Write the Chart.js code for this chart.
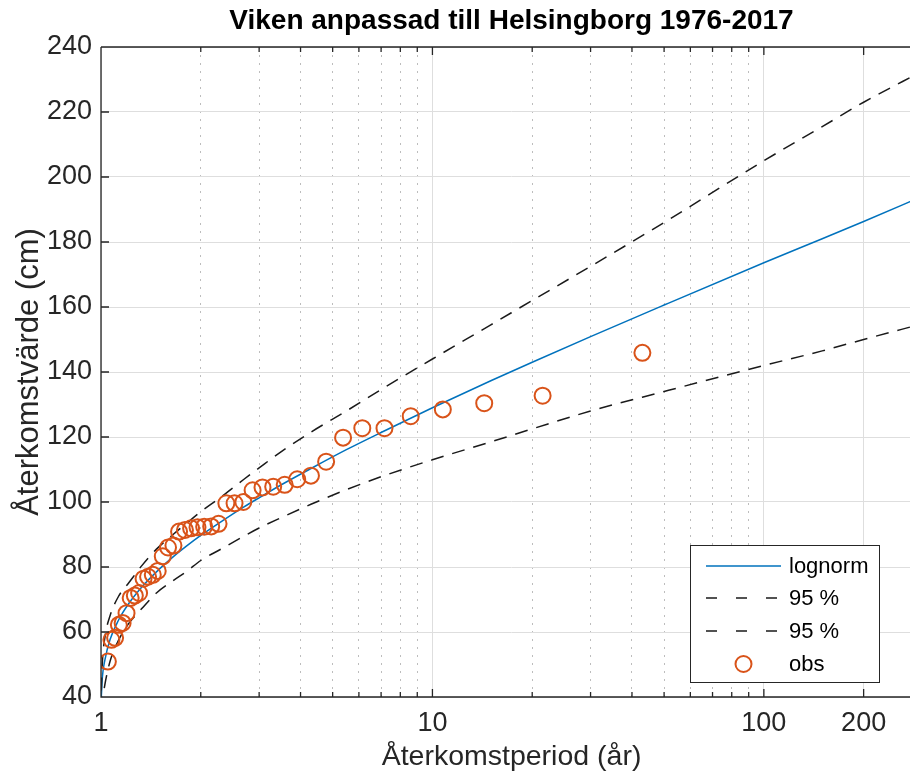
<!DOCTYPE html>
<html>
<head>
<meta charset="utf-8">
<script src="https://cdn.jsdelivr.net/npm/chart.js@4.4.0/dist/chart.umd.min.js"></script>
<style>
  body { margin: 0; background: #fff; }
  #wrap { width: 910px; height: 776px; overflow: hidden; }
</style>
</head>
<body>
<div id="wrap"><canvas id="chart" width="922" height="776"></canvas></div>
<script>
// observerade årsmaxima och deras återkomstperiod
var obsPeriod = [43, 21.5, 14.33, 10.75, 8.6, 7.167, 6.143, 5.375, 4.778, 4.3,
  3.909, 3.583, 3.308, 3.071, 2.867, 2.688, 2.529, 2.389, 2.263, 2.15,
  2.048, 1.955, 1.87, 1.792, 1.72, 1.654, 1.593, 1.536, 1.483, 1.433,
  1.387, 1.344, 1.303, 1.265, 1.229, 1.194, 1.162, 1.132, 1.103, 1.075, 1.049];
var obsLevel = [145.9, 132.7, 130.4, 128.5, 126.4, 122.7, 122.7, 119.8, 112.4, 108.1,
  107.0, 105.3, 104.7, 104.5, 103.6, 100.0, 99.6, 99.6, 93.3, 92.5,
  92.4, 92.2, 91.9, 91.4, 90.9, 86.6, 86.0, 83.3, 78.8, 77.6,
  77.0, 76.4, 72.0, 71.2, 70.5, 65.8, 62.8, 62.2, 58.2, 57.6, 50.9];

// anpassad kurva (lognorm) och 95 % gränser
var curvePeriod = [1.002, 1.01, 1.028, 1.065, 1.13, 1.21, 1.33, 1.47, 1.65, 1.81,
  2, 2.3, 2.7, 3, 3.5, 4.3, 5.5, 7.1, 10, 15, 20, 30, 50, 100, 150, 200, 300];
var lognormLevel = [40, 46.3, 51.5, 57.7, 63.7, 68.6, 73.9, 78.5, 83.1, 86.4,
  89.7, 93.9, 98.5, 101.3, 105.3, 110.3, 116.1, 121.7, 129.0, 137.3, 143.0, 150.9, 160.6, 173.6, 181.0, 186.3, 194.0];
var upperLevel = [42, 51, 58.5, 65, 71, 75, 80.5, 85.5, 90, 93.4,
  97, 101.5, 107, 110.5, 115.5, 121.5, 128, 135, 144, 154.5, 162, 172.5, 186, 205, 215.5, 223, 232.5];
var lowerLevel = [36, 39, 44, 51, 57.5, 62.5, 67.3, 72, 75.8, 78.6,
  82, 85.5, 89.5, 92, 95.2, 99.3, 103.8, 108, 113, 118.5, 122.5, 128, 134, 142, 146.5, 150, 154.8];

var xTicks = [1, 2, 3, 4, 5, 6, 7, 8, 9, 10, 20, 30, 40, 50, 60, 70, 80, 90, 100, 200];
var xMajor = [1, 10, 100, 200];
var yTicks = [40, 60, 80, 100, 120, 140, 160, 180, 200, 220, 240];

function pairs(xs, ys) {
  return xs.map(function (x, i) { return { x: x, y: ys[i] }; });
}

var axesColor = '#262626';
var fontFamily = '"Liberation Sans", Arial, sans-serif';
var legendItems = [
  { text: 'lognorm', kind: 'line', color: '#0072BD', dash: [] },
  { text: '95 %', kind: 'line', color: '#1a1a1a', dash: [11, 19] },
  { text: '95 %', kind: 'line', color: '#1a1a1a', dash: [11, 19] },
  { text: 'obs', kind: 'circle', color: '#D95319', dash: [] }
];

var axesBox = {
  id: 'axesBox',
  afterDraw: function (chart) {
    var ctx = chart.ctx, a = chart.chartArea;
    var xs = chart.scales.x, ys = chart.scales.y;
    ctx.save();
    ctx.strokeStyle = axesColor;
    ctx.lineWidth = 1.3;
    ctx.setLineDash([]);
    ctx.beginPath();
    ctx.moveTo(a.left, a.top); ctx.lineTo(a.right, a.top);
    ctx.moveTo(a.left, a.top); ctx.lineTo(a.left, a.bottom); ctx.lineTo(a.right, a.bottom);
    xTicks.forEach(function (v) {
      var px = xs.getPixelForValue(v);
      var len = xMajor.indexOf(v) >= 0 ? 8 : 5;
      ctx.moveTo(px, a.bottom); ctx.lineTo(px, a.bottom - len);
      ctx.moveTo(px, a.top); ctx.lineTo(px, a.top + len);
    });
    yTicks.forEach(function (v) {
      var py = ys.getPixelForValue(v);
      ctx.moveTo(a.left, py); ctx.lineTo(a.left + 8, py);
    });
    ctx.stroke();

    // legend
    var bx = 690.5, by = 545.5, bw = 189, bh = 137;
    ctx.fillStyle = '#fff';
    ctx.fillRect(bx, by, bw, bh);
    ctx.strokeStyle = axesColor;
    ctx.lineWidth = 1;
    ctx.strokeRect(bx, by, bw, bh);
    var rows = [566, 598, 631, 664];
    ctx.font = '22px ' + fontFamily;
    ctx.textBaseline = 'middle';
    ctx.textAlign = 'left';
    legendItems.forEach(function (it, i) {
      var y = rows[i];
      ctx.strokeStyle = it.color;
      if (it.kind === 'line') {
        ctx.lineWidth = 1.5;
        ctx.setLineDash(it.dash);
        ctx.beginPath();
        ctx.moveTo(706, y); ctx.lineTo(781, y);
        ctx.stroke();
        ctx.setLineDash([]);
      } else {
        ctx.lineWidth = 2;
        ctx.beginPath();
        ctx.arc(743.5, y, 8, 0, Math.PI * 2);
        ctx.stroke();
      }
      ctx.fillStyle = '#000';
      ctx.fillText(it.text, 789, y + 1);
    });
    ctx.restore();
  }
};

var ctx = document.getElementById('chart');

var chart = new Chart(ctx, {
  type: 'scatter',
  data: {
    datasets: [{
        label: 'lognorm',
        data: pairs(curvePeriod, lognormLevel),
        showLine: true,
        borderColor: '#0072BD',
        borderWidth: 1.5,
        pointRadius: 0,
        cubicInterpolationMode: 'monotone',
        order: 3
      },
      {
        label: '95 %',
        data: pairs(curvePeriod, upperLevel),
        showLine: true,
        borderColor: '#1a1a1a',
        borderWidth: 1.5,
        borderDash: [13, 9],
        pointRadius: 0,
        cubicInterpolationMode: 'monotone',
        order: 2
      },
      {
        label: '95 %',
        data: pairs(curvePeriod, lowerLevel),
        showLine: true,
        borderColor: '#1a1a1a',
        borderWidth: 1.5,
        borderDash: [13, 9],
        pointRadius: 0,
        cubicInterpolationMode: 'monotone',
        order: 1
      },
      {
        label: 'obs',
        data: pairs(obsPeriod, obsLevel),
        showLine: false,
        pointRadius: 8,
        pointBorderWidth: 2,
        pointBorderColor: '#D95319',
        pointBackgroundColor: 'transparent',
        order: 0
      }
    ]
  },
  options: {
    responsive: false,
    animation: false,
    devicePixelRatio: 1,
    layout: { padding: 0, autoPadding: false },
    plugins: {
      legend: { display: false },
      tooltip: { enabled: false },
      title: {
        display: true,
        fullSize: false,
        text: 'Viken anpassad till Helsingborg 1976-2017',
        color: '#000',
        font: { family: fontFamily, size: 28, weight: 'bold' },
        padding: { top: 4, bottom: 9.4 }
      }
    },
    scales: {
      x: {
        type: 'logarithmic',
        min: 1,
        max: 300,
        afterBuildTicks: function (scale) {
          scale.ticks = xTicks.map(function (v) { return { value: v }; });
        },
        afterFit: function (scale) {
          scale.height = 79;
          scale.paddingLeft = 0;
          scale.paddingRight = 0;
        },
        ticks: {
          autoSkip: false,
          maxRotation: 0,
          padding: 10,
          color: axesColor,
          font: { family: fontFamily, size: 27 },
          callback: function (v) { return xMajor.indexOf(v) >= 0 ? String(v) : ''; }
        },
        grid: {
          drawTicks: false,
          lineWidth: 1,
          color: function (c) {
            return c.tick && xMajor.indexOf(c.tick.value) < 0 ? '#bdbdbd' : '#dedede';
          }
        },
        border: {
          display: false,
          dash: function (c) {
            return c.tick && xMajor.indexOf(c.tick.value) < 0 ? [2, 6] : [];
          }
        },
        title: {
          display: true,
          text: 'Återkomstperiod (år)',
          color: axesColor,
          font: { family: fontFamily, size: 28.5 },
          padding: { top: 0, bottom: 2 }
        }
      },
      y: {
        min: 40,
        max: 240,
        afterBuildTicks: function (scale) {
          scale.ticks = yTicks.map(function (v) { return { value: v }; });
        },
        afterFit: function (scale) { scale.width = 101; },
        ticks: {
          padding: 9,
          color: axesColor,
          font: { family: fontFamily, size: 27 }
        },
        grid: {
          drawTicks: false,
          color: '#dedede',
          lineWidth: 1
        },
        border: { display: false },
        title: {
          display: true,
          text: 'Återkomstvärde (cm)',
          color: axesColor,
          font: { family: fontFamily, size: 31 },
          padding: { top: 11, bottom: 0 }
        }
      }
    }
  },
  plugins: [axesBox]
});
</script>
</body>
</html>
